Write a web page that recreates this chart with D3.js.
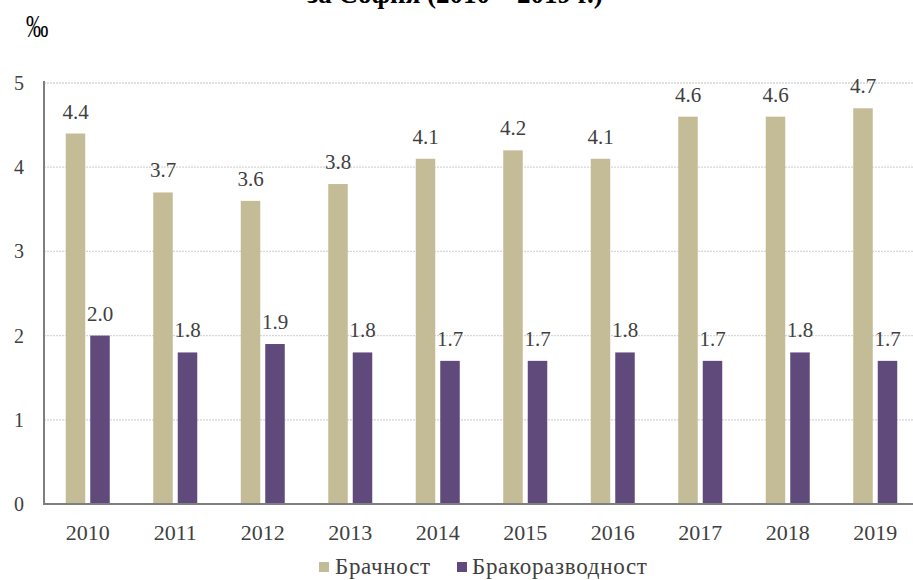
<!DOCTYPE html>
<html><head><meta charset="utf-8">
<script src="https://cdn.jsdelivr.net/npm/d3@7"></script>
<style>body{margin:0;background:#fff}svg{display:block}text{font-family:"Liberation Serif","Times New Roman",serif}</style>
</head><body>
<svg id="c" width="913" height="580"></svg>
<script>
const years = ["2010","2011","2012","2013","2014","2015","2016","2017","2018","2019"];
const marriage = [4.4,3.7,3.6,3.8,4.1,4.2,4.1,4.6,4.6,4.7];
const divorce = [2.0,1.8,1.9,1.8,1.7,1.7,1.8,1.7,1.8,1.7];
const seriesNames = ["Брачност","Бракоразводност"];
const seriesColors = ["#c4bc96","#604a7b"];
const yTicks = [0,1,2,3,4,5];

(function(){
const svg = d3.select("#c");
const pL = 44, pR = 919, pT = 83, pB = 504;
const x = d3.scaleBand().domain(years).range([pL,pR]);
const y = d3.scaleLinear().domain([0,5]).range([pB,pT]);
const barW = 19.5, gap = 5;

// title (cut off at top, as in the reference)
svg.append("text").attr("x",455).attr("y",3).attr("text-anchor","middle")
  .attr("font-size",27).attr("font-weight","bold").attr("fill","#000")
  .text("за София (2010 – 2019 г.)");
svg.append("text").attr("transform","translate(26,37) scale(0.72,1)").attr("font-size",31).attr("fill","#000").text("‰");

// grid
svg.append("g").selectAll("line").data(yTicks.filter(d=>d>0)).join("line")
  .attr("x1",pL).attr("x2",913).attr("y1",d=>y(d)).attr("y2",d=>y(d))
  .attr("stroke","#d6d6d6").attr("stroke-width",1.3).attr("stroke-dasharray","2,1");

// y tick labels
svg.append("g").selectAll("text").data(yTicks).join("text")
  .attr("x",24).attr("y",d=>y(d)+7).attr("text-anchor","end")
  .attr("font-size",20).attr("fill","#404040").text(d=>d);

const data = [marriage, divorce];
data.forEach((vals,si)=>{
  const off = si===0 ? -gap/2-barW : gap/2;
  const g = svg.append("g");
  g.selectAll("rect").data(vals).join("rect")
    .attr("x",(d,i)=>x(years[i])+x.bandwidth()/2+off)
    .attr("y",d=>y(d)).attr("width",barW).attr("height",d=>y(0)-y(d))
    .attr("fill",seriesColors[si]);
  g.selectAll("text").data(vals).join("text")
    .attr("x",(d,i)=>x(years[i])+x.bandwidth()/2+off+barW/2)
    .attr("y",d=>y(d)-15).attr("text-anchor","middle")
    .attr("font-size",21).attr("fill","#404040").text(d=>d.toFixed(1));
});

// axes
svg.append("line").attr("x1",pL).attr("x2",pL).attr("y1",pT-2).attr("y2",pB+1)
  .attr("stroke","#7f7f7f").attr("stroke-width",2);
svg.append("line").attr("x1",pL-1).attr("x2",913).attr("y1",pB).attr("y2",pB)
  .attr("stroke","#7f7f7f").attr("stroke-width",2);

// x labels
svg.append("g").selectAll("text").data(years).join("text")
  .attr("x",d=>x(d)+x.bandwidth()/2).attr("y",540).attr("text-anchor","middle")
  .attr("font-size",22).attr("fill","#404040").text(d=>d);

// legend
const leg = [{sx:319,tx:335},{sx:457,tx:472}];
seriesNames.forEach((n,i)=>{
  svg.append("rect").attr("x",leg[i].sx).attr("y",562).attr("width",10).attr("height",10).attr("fill",seriesColors[i]);
  svg.append("text").attr("x",leg[i].tx).attr("y",574).attr("font-size",23).attr("letter-spacing",0.7).attr("fill","#404040").text(n);
});
})();
</script>
</body></html>
